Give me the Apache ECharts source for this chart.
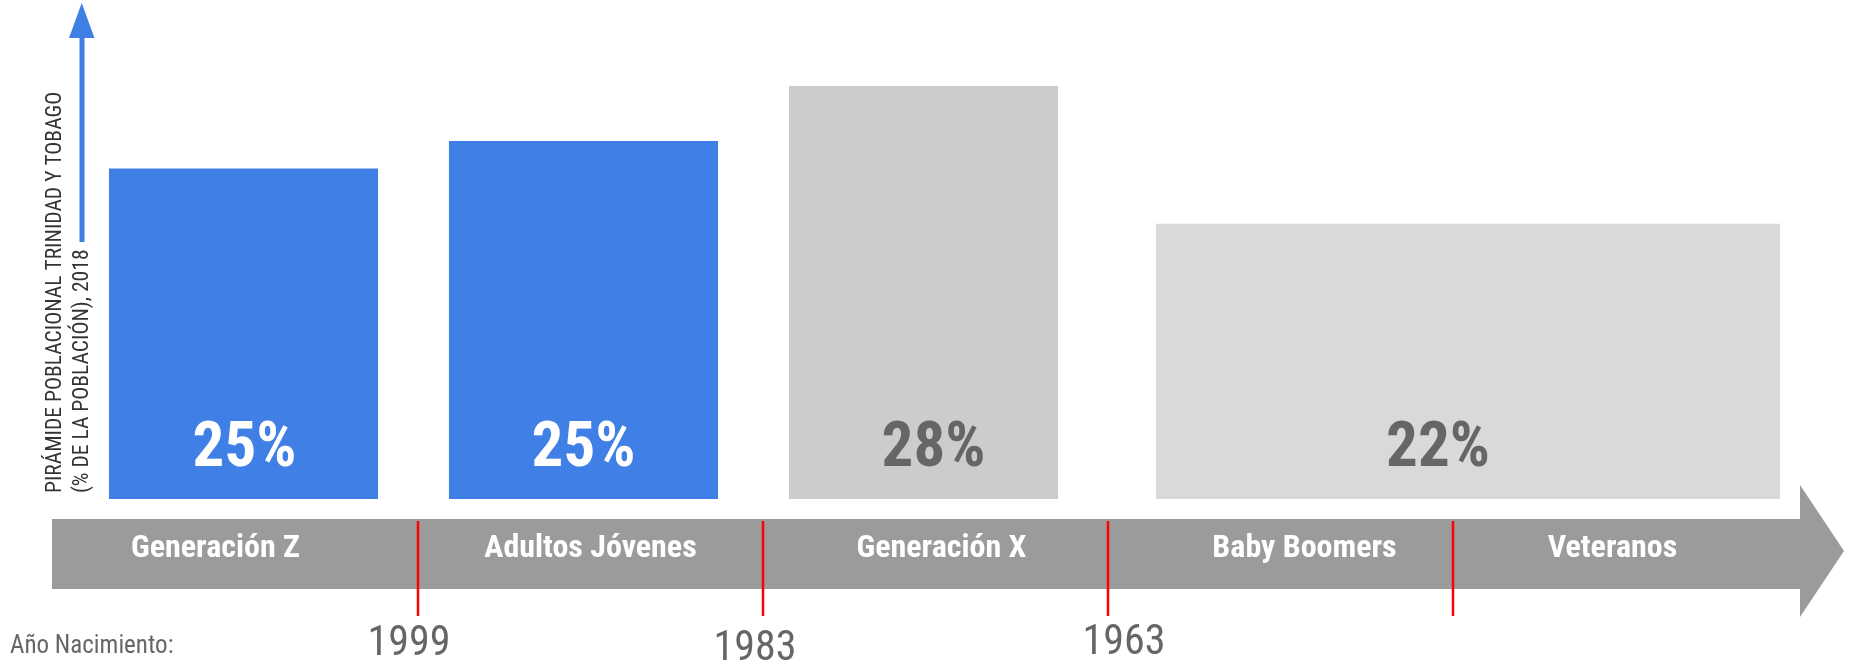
<!DOCTYPE html>
<html><head><meta charset="utf-8">
<script src="https://cdn.jsdelivr.net/npm/echarts@6/dist/echarts.min.js"></script>
<style>html,body{margin:0;padding:0;background:#fff}#c{width:1851px;height:665px}</style>
</head><body><div id="c"></div>
<script>
// ---------- DATA ----------
const generations = ['Generación Z', 'Adultos Jóvenes', 'Generación X', 'Baby Boomers', 'Veteranos'];
const barGroups = [['Generación Z'], ['Adultos Jóvenes'], ['Generación X'], ['Baby Boomers', 'Veteranos']];
const barHeights = [24, 26, 30, 20];           // plotted heights
const barLabels = ['25%', '25%', '28%', '22%'];  // printed shares
const boundaryYears = ['1999', '1983', '1963', ''];  // birth-year cut between consecutive generations
const yTitleLines = ['PIRÁMIDE POBLACIONAL TRINIDAD Y TOBAGO', '(% DE LA POBLACIÓN), 2018'];
const yearCaption = 'Año Nacimiento:';

// ---------- STYLE / LAYOUT ----------
const NARROW = '"Liberation Sans Narrow", "Roboto Condensed", "Arial Narrow", sans-serif';
const BLUE = '#3f7fe6';
const barFills = [BLUE, BLUE, '#cccccc', '#d9d9d9'];
const barLabelColors = ['#ffffff', '#ffffff', '#666666', '#666666'];
const BAR_RATIO = 0.78;
const GRID = { left: 73, right: 53, top: 86, bottom: 166 };
const barNudge = [[-2, -2], [-7, -7], [-12, -12], [10, 20]];
const barLabelNudge = [1, 0, 10, -30];
const bandLabelNudge = [-30, 0, 6, 24, -13];
const yearNudge = [[-9, 0], [-8, 5], [16, -1], [0, 0]];

const chart = echarts.init(document.getElementById('c'), null, { renderer: 'canvas' });

const barData = barGroups.map((g, i) => [generations.indexOf(g[0]), generations.indexOf(g[g.length - 1]), barHeights[i]]);
const boundaryData = boundaryYears.map((y, i) => [i, i + 1]);

const bandRich = {};
bandLabelNudge.forEach((d, i) => {
  bandRich['n' + i] = {
    color: '#ffffff', fontFamily: NARROW, fontWeight: 'bold', fontSize: 32,
    padding: d >= 0 ? [0, 0, 0, 2 * d] : [0, -2 * d, 0, 0]
  };
});

const option = {
  animation: false,
  backgroundColor: '#ffffff',
  grid: { left: GRID.left, right: GRID.right, top: GRID.top, bottom: GRID.bottom, containLabel: false },
  xAxis: {
    type: 'category',
    data: generations,
    boundaryGap: true,
    z: 10,
    axisLine: { show: false },
    axisTick: { show: false },
    splitLine: { show: false },
    axisLabel: {
      color: '#ffffff', fontFamily: NARROW, fontWeight: 'bold', fontSize: 32,
      margin: 50, verticalAlign: 'middle', interval: 0,
      formatter: function (v, idx) { return '{n' + idx + '|' + v + '}'; },
      rich: bandRich
    }
  },
  yAxis: { type: 'value', min: 0, max: 30, show: false },
  graphic: {
    elements: [
      { type: 'polygon', z: 0, silent: true,
        shape: { points: [[52, 519], [1800, 519], [1800, 485], [1844, 551], [1800, 617], [1800, 589], [52, 589]] },
        style: { fill: '#9b9b9b' } },
      { type: 'rect', z: 0, silent: true, shape: { x: 79.5, y: 36, width: 5, height: 206 }, style: { fill: BLUE } },
      { type: 'polygon', z: 0, silent: true, shape: { points: [[69, 38], [94.5, 38], [81.7, 3]] }, style: { fill: BLUE } },
      { type: 'text', z: 0, x: 55.5, y: 493, rotation: Math.PI / 2,
        style: { text: yTitleLines[0], font: '21.6px ' + NARROW, fill: '#333333', align: 'left', verticalAlign: 'middle' } },
      { type: 'text', z: 0, x: 82.5, y: 493, rotation: Math.PI / 2,
        style: { text: yTitleLines[1], font: '21.6px ' + NARROW, fill: '#333333', align: 'left', verticalAlign: 'middle' } },
      { type: 'text', z: 0, x: 10, y: 647,
        style: { text: yearCaption, font: '25px ' + NARROW, fill: '#666666', align: 'left', verticalAlign: 'middle' } }
    ]
  },
  series: [
    {
      type: 'custom',
      z: 3,
      silent: true,
      encode: { x: [0, 1], y: 2 },
      data: barData,
      renderItem: function (params, api) {
        const i = params.dataIndex;
        const base = api.coord([api.value(0), 0]);
        const top = api.coord([api.value(1), api.value(2)]);
        const band = api.size([1, 0])[0];
        const pad = band * (1 - BAR_RATIO) / 2;
        const x0 = base[0] - band / 2 + pad + barNudge[i][0];
        const x1 = top[0] + band / 2 - pad + barNudge[i][1];
        return {
          type: 'group',
          children: [
            { type: 'rect', shape: { x: x0, y: top[1], width: x1 - x0, height: base[1] - top[1] }, style: { fill: barFills[i] } },
            { type: 'text', style: { text: barLabels[i], x: (x0 + x1) / 2 + barLabelNudge[i], y: base[1] - 49, align: 'center', verticalAlign: 'middle',
                fill: barLabelColors[i], font: 'bold 63px ' + NARROW } }
          ]
        };
      }
    },
    {
      type: 'custom',
      z: 12,
      silent: true,
      encode: { x: [0, 1] },
      data: boundaryData,
      renderItem: function (params, api) {
        const i = params.dataIndex;
        const a = api.coord([api.value(0), 0]);
        const b = api.coord([api.value(1), 0]);
        const x = (a[0] + b[0]) / 2;
        const y0 = a[1];
        const children = [
          { type: 'line', shape: { x1: x, y1: y0 + 22, x2: x, y2: y0 + 117 }, style: { stroke: '#ff0000', lineWidth: 2.5 } }
        ];
        if (boundaryYears[i]) {
          children.push({ type: 'text', style: { text: boundaryYears[i], x: x + yearNudge[i][0], y: y0 + 145 + yearNudge[i][1],
            align: 'center', verticalAlign: 'middle', fill: '#666666', font: '42px ' + NARROW } });
        }
        return { type: 'group', children: children };
      }
    }
  ]
};
chart.setOption(option);
</script>
</body></html>
